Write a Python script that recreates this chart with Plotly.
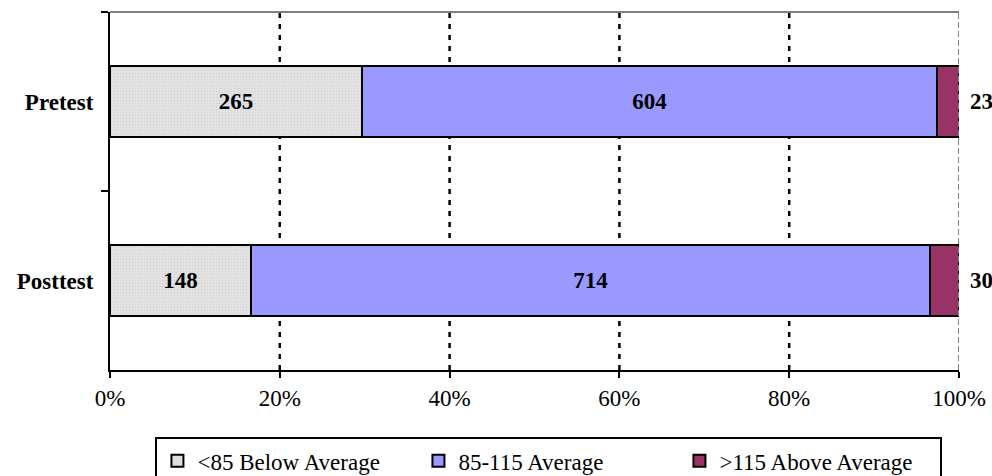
import plotly.graph_objects as go

categories = ["Pretest", "Posttest"]
below = [265, 148]
average = [604, 714]
above = [23, 30]
series_names = ["<85 Below Average", "85-115 Average", ">115 Above Average"]
tick_vals = [0, 20, 40, 60, 80, 100]
tick_text = ["0%", "20%", "40%", "60%", "80%", "100%"]

FONT = "Liberation Serif, Times New Roman, serif"
colors = ["#DCDCDC", "#9999FF", "#993366"]

fig = go.Figure()
for i, (name, vals) in enumerate(zip(series_names, [below, average, above])):
    marker = dict(color=colors[i], line=dict(color="black", width=2))
    if i == 0:
        marker["pattern"] = dict(shape=".", size=3, solidity=0.25,
                                 fgcolor="#C4C4C4", bgcolor="#E2E2E2")
    fig.add_trace(go.Bar(
        y=categories, x=vals, name=name, orientation="h",
        marker=marker,
        text=[str(v) for v in vals] if i < 2 else None,
        textposition="inside", insidetextanchor="middle",
        textfont=dict(family=FONT, size=23, color="black", weight="bold"),
        constraintext="none",
        hoverinfo="skip",
    ))

# labels for the last segment, placed right of the bar end
for cat, v in zip(categories, above):
    fig.add_annotation(x=100, y=cat, xref="x", yref="y", text=str(v),
                       showarrow=False, xanchor="left", xshift=9,
                       font=dict(family=FONT, size=23, color="black", weight="bold"))

# gridlines
for v in tick_vals[1:-1]:
    fig.add_shape(type="line", xref="x", yref="paper", x0=v, x1=v, y0=0, y1=1,
                  line=dict(color="black", width=2.5, dash="5px,6px"), layer="below")
fig.add_shape(type="line", xref="x", yref="paper", x0=100, x1=100, y0=0, y1=1,
              line=dict(color="#808080", width=2, dash="6px,3px"), layer="above")
fig.add_shape(type="line", xref="paper", yref="paper", x0=0, x1=1, y0=1, y1=1,
              line=dict(color="#808080", width=2), layer="above")

fig.update_layout(
    barmode="stack", barnorm="percent", bargap=0.6,
    width=992, height=476,
    margin=dict(l=110, r=33, t=12, b=106, autoexpand=False),
    plot_bgcolor="white", paper_bgcolor="white",
    font=dict(family=FONT, size=23, color="black"),
    legend=dict(orientation="h", x=0.517, xanchor="center", y=-0.188, yanchor="top",
                bordercolor="black", borderwidth=2, entrywidth=216,
                font=dict(family=FONT, size=23, color="black"),
                traceorder="normal", itemclick=False),
    xaxis=dict(range=[0, 100], tickvals=tick_vals, ticktext=tick_text,
               showgrid=False, zeroline=False, showline=True, linecolor="black",
               linewidth=2, ticks="outside", ticklen=6, tickwidth=2, tickcolor="black",
               automargin=False,
               tickfont=dict(family=FONT, size=23, color="black")),
    yaxis=dict(categoryorder="array", categoryarray=categories, autorange="reversed",
               showgrid=False, zeroline=False, showline=True, linecolor="black",
               linewidth=2, ticks="outside", ticklen=7, tickwidth=2, tickcolor="black",
               tickson="boundaries", ticklabelstandoff=10, automargin=False,
               tickfont=dict(family=FONT, size=23, color="black", weight="bold")),
    showlegend=True,
)

fig.write_html("out.html", config={"displayModeBar": False},
               post_script="document.body.style.margin='0';document.body.style.overflow='hidden';")
